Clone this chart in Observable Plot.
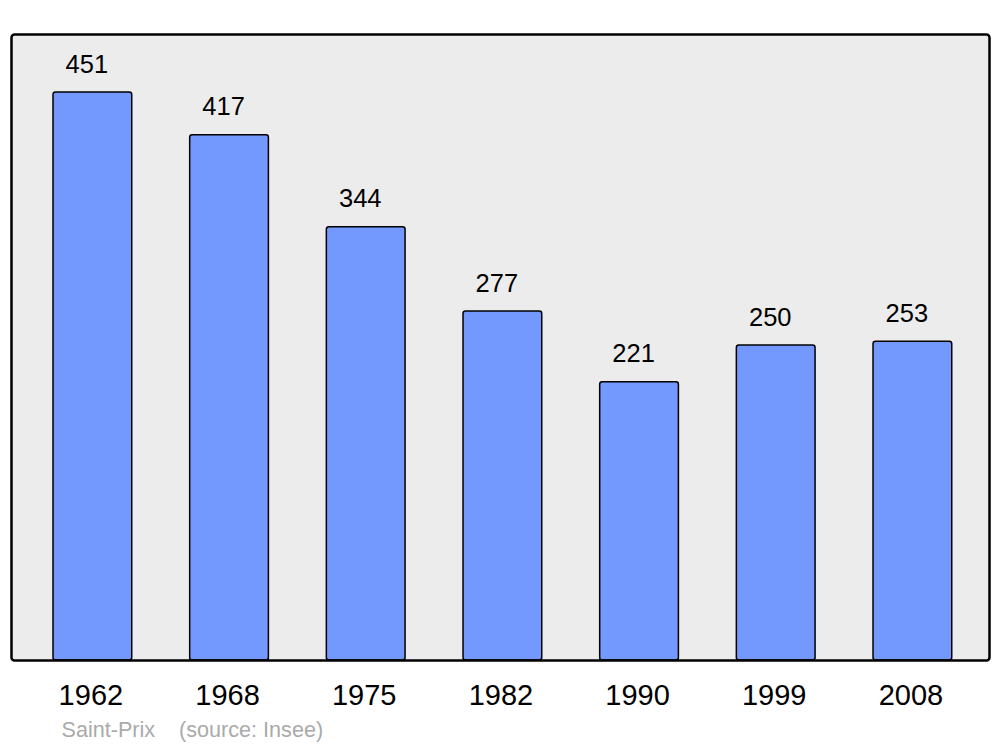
<!DOCTYPE html>
<html>
<head>
<meta charset="utf-8">
<script src="https://cdn.jsdelivr.net/npm/d3@7"></script>
<script src="https://cdn.jsdelivr.net/npm/@observablehq/plot@0.6"></script>
<style>
  html, body { margin: 0; padding: 0; background: #ffffff; }
  #chart svg { display: block; }
</style>
</head>
<body>
<div id="chart"></div>
<script>
const years = ["1962", "1968", "1975", "1982", "1990", "1999", "2008"];
const population = [451, 417, 344, 277, 221, 250, 253];
const captionText = ["Saint-Prix    (source: Insee)"];

const data = years.map((y, i) => ({year: y, value: population[i]}));

const chart = Plot.plot({
  width: 1000,
  height: 747,
  marginTop: 34,
  marginBottom: 87,
  marginLeft: 11,
  marginRight: 11,
  style: {fontFamily: "'Liberation Sans', Arial, sans-serif", background: "#ffffff", overflow: "visible"},
  x: {domain: years, paddingInner: 0.424, paddingOuter: 0.29, align: 0.53, round: false, axis: null},
  y: {domain: [0, 497], axis: null},
  marks: [
    Plot.frame({fill: "#ececec", stroke: "none", rx: 3}),
    Plot.barY(data, {x: "year", y: "value", fill: "#7399ff", stroke: "#000000", strokeWidth: 1.5, rx: 2.5}),
    Plot.text(data, {x: "year", y: "value", text: d => String(d.value), dy: -28, dx: -6, fontSize: 25.5, fill: "#000000", lineAnchor: "middle"}),
    Plot.text(years, {x: d => d, text: d => d, frameAnchor: "bottom", dy: 35, dx: -2, fontSize: 29, fill: "#000000", lineAnchor: "middle"}),
    Plot.text(captionText, {frameAnchor: "bottom-left", text: d => d, dx: 50, dy: 70, fontSize: 21.6, fill: "#aaaaaa", textAnchor: "start", lineAnchor: "middle"}),
    Plot.frame({fill: "none", stroke: "#000000", strokeWidth: 2.5, rx: 3})
  ]
});
document.getElementById("chart").appendChild(chart);
</script>
</body>
</html>
